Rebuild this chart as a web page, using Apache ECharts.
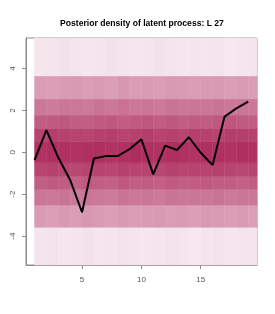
<!DOCTYPE html>
<html><head><meta charset="utf-8">
<script src="https://cdn.jsdelivr.net/npm/echarts@6/dist/echarts.min.js"></script>
<style>html,body{margin:0;padding:0;background:#fff}#c{width:275px;height:314px}</style>
</head><body><div id="c"></div>
<script>
const titleText = 'Posterior density of latent process: L 27';
const timePoints = [1,2,3,4,5,6,7,8,9,10,11,12,13,14,15,16,17,18,19];
const latentValues = [-0.37,1.06,-0.25,-1.32,-2.86,-0.29,-0.18,-0.18,0.15,0.62,-1.05,0.32,0.11,0.72,-0.02,-0.61,1.70,2.10,2.42];
const xTicks = [5,10,15];
const yTicks = [-4,-2,0,2,4];
const bandEdges = [-5.6,-3.58,-2.52,-1.77,-1.13,-0.5,0.5,1.15,1.78,2.55,3.65,5.6];
// density level per column (rows) and per band (bottom -> top)
const densities = [
  [0.05,0.42,0.61,0.73,0.86,0.95,0.87,0.74,0.60,0.41,0.04],
  [0.06,0.40,0.60,0.75,0.88,0.97,0.89,0.75,0.58,0.40,0.05],
  [0.04,0.43,0.62,0.74,0.86,0.96,0.88,0.76,0.61,0.42,0.06],
  [0.05,0.41,0.59,0.72,0.85,0.95,0.87,0.74,0.60,0.43,0.05],
  [0.06,0.44,0.61,0.75,0.87,0.96,0.86,0.73,0.59,0.41,0.04],
  [0.04,0.42,0.60,0.73,0.86,0.97,0.88,0.75,0.62,0.42,0.05],
  [0.05,0.40,0.58,0.72,0.85,0.95,0.89,0.76,0.60,0.40,0.06],
  [0.06,0.43,0.62,0.76,0.88,0.96,0.87,0.74,0.63,0.44,0.05],
  [0.05,0.41,0.60,0.73,0.86,0.98,0.88,0.75,0.60,0.41,0.04],
  [0.04,0.42,0.61,0.74,0.87,0.96,0.90,0.77,0.61,0.42,0.05],
  [0.05,0.43,0.59,0.72,0.85,0.95,0.87,0.74,0.59,0.40,0.06],
  [0.06,0.41,0.62,0.75,0.88,0.97,0.88,0.76,0.62,0.43,0.05],
  [0.05,0.42,0.60,0.73,0.86,0.96,0.86,0.73,0.60,0.42,0.04],
  [0.03,0.40,0.61,0.74,0.87,0.95,0.89,0.75,0.61,0.41,0.05],
  [0.05,0.43,0.60,0.75,0.86,0.97,0.88,0.74,0.60,0.42,0.04],
  [0.06,0.42,0.62,0.73,0.88,0.96,0.87,0.76,0.62,0.43,0.05],
  [0.04,0.41,0.59,0.74,0.86,0.95,0.90,0.77,0.60,0.41,0.03],
  [0.05,0.42,0.61,0.72,0.85,0.97,0.89,0.75,0.61,0.42,0.04],
  [0.05,0.40,0.60,0.74,0.87,0.96,0.88,0.74,0.60,0.41,0.05]
];

const cells = [];
timePoints.forEach((t, i) => {
  for (let b = 0; b < bandEdges.length - 1; b++) {
    cells.push([t, bandEdges[b], bandEdges[b+1], densities[i][b]]);
  }
});
const linePts = timePoints.map((t, i) => [t, latentValues[i]]);

const chart = echarts.init(document.getElementById('c'), null, {renderer:'canvas'});
const font = 'Liberation Sans, Arial, sans-serif';
chart.setOption({
  animation: false,
  title: {text: titleText, left: 137, textAlign: 'center', top: 14,
    textStyle: {fontSize: 8.6, fontWeight: 'bold', color: '#000', fontFamily: font}},
  grid: {left: 26, top: 38, right: 18, bottom: 49, show: true, borderColor: '#8c8c8c', borderWidth: 1},
  visualMap: {type: 'continuous', show: false, min: 0, max: 1, dimension: 3, seriesIndex: 0,
    inRange: {color: ['#f8eef3', '#ad295b']}},
  xAxis: {type: 'value', min: 0.28, max: 19.74, splitLine: {show: false},
    axisLine: {show: true, onZero: false, lineStyle: {color: '#8c8c8c'}},
    axisTick: {show: true, customValues: xTicks, length: 4, lineStyle: {color: '#8c8c8c'}},
    axisLabel: {customValues: xTicks, fontSize: 8, color: '#555', margin: 11, fontFamily: font}},
  yAxis: {type: 'value', min: -5.38, max: 5.46, splitLine: {show: false},
    axisLine: {show: true, onZero: false, lineStyle: {color: '#8c8c8c'}},
    axisTick: {show: true, customValues: yTicks, length: 4, lineStyle: {color: '#8c8c8c'}},
    axisLabel: {customValues: yTicks, fontSize: 8, color: '#555', margin: 9, rotate: 90, fontFamily: font}},
  series: [
    {type: 'custom', data: cells, encode: {x: 0, y: [1, 2]}, z: 1,
      renderItem: function (params, api) {
        const x0 = api.value(0), y0 = api.value(1), y1 = api.value(2);
        const p0 = api.coord([x0, y1]);
        const p1 = api.coord([x0 + 1, y0]);
        const cs = params.coordSys;
        const r = echarts.graphic.clipRectByRect(
          {x: p0[0], y: p0[1], width: p1[0] - p0[0], height: p1[1] - p0[1]},
          {x: cs.x, y: cs.y, width: cs.width, height: cs.height});
        if (!r) return null;
        const c = api.visual('color');
        return {type: 'rect', shape: r, style: {fill: c, stroke: c, lineWidth: 0.5}};
      }},
    {type: 'line', data: linePts, z: 5, symbol: 'none', lineStyle: {color: '#000', width: 2}, itemStyle: {color: '#000'}}
  ]
});
</script></body></html>
